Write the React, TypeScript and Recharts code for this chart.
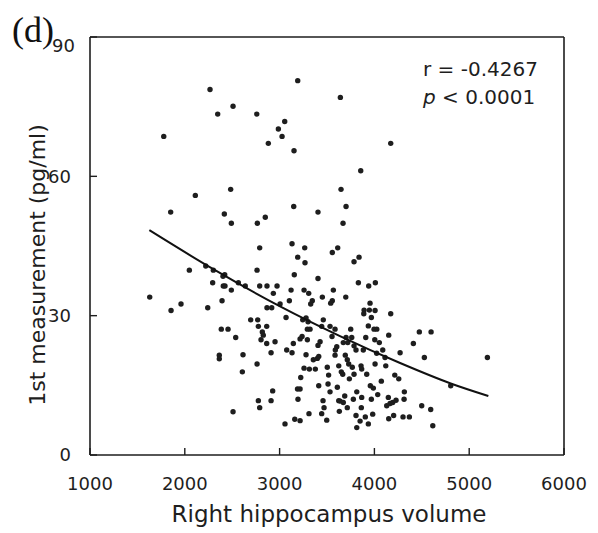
import { ScatterChart, Scatter, XAxis, YAxis, ReferenceLine } from "recharts"

const volumes = [
  2266, 3191, 2347, 2509, 2759, 3054, 2987, 3026, 1778, 2881, 3152, 3641, 4172, 3856, 2111, 2484, 1851, 2417,
  2491, 2765, 2849, 3149, 3405, 2790, 3131, 3265, 3191, 3648, 3701, 3669, 3613, 3556, 3838, 3268, 3785, 2048,
  2221, 2301, 2421, 2403, 2762, 3155, 3405, 2294, 2406, 2424, 2565, 2638, 2491, 2790, 2867, 2973, 2934, 3121,
  3258, 3307, 3567, 3451, 1630, 2393, 3103, 3345, 3328, 3556, 3539, 3005, 1855, 1960, 2242, 2867, 2917, 3068,
  2695, 2769, 3244, 3279, 3300, 3461, 2776, 2864, 3444, 3532, 3585, 2385, 2456, 2818, 2828, 3293, 3321, 2537,
  2804, 2864, 2952, 3237, 3216, 3293, 3427, 3405, 3553, 3145, 3603, 3588, 3075, 3131, 2910, 2614, 2364, 2364,
  3279, 3356, 3398, 3413, 2762, 2607, 3258, 3314, 3377, 3503, 3624, 3223, 3517, 3413, 3511, 3609, 3189, 3216,
  2927, 3532, 3194, 2776, 2910, 3458, 3624, 2790, 3469, 2509, 3310, 3444, 3630, 3160, 3216, 3497, 3057, 3831,
  4010, 3940, 3698, 3954, 3891, 3888, 3947, 4007, 3968, 4172, 3750, 3936, 3996, 4025, 4474, 4598, 4151, 3701,
  3761, 3672, 3719, 3909, 4004, 4052, 4411, 3785, 3806, 3883, 4024, 4088, 4271, 3585, 3693, 3714, 3729, 4112,
  4527, 5192, 3767, 3859, 3866, 4007, 4120, 3651, 3666, 3785, 3919, 3736, 4215, 4257, 4073, 4805, 3957, 3989,
  3814, 4316, 3687, 3866, 3968, 4035, 4147, 4313, 3638, 3672, 3778, 4165, 4193, 4228, 4130, 3714, 3862, 4499,
  4594, 3982, 3806, 3904, 4203, 4151, 4302, 4369, 3849, 3936, 3814, 4616,
]
const measurements = [
  78.7, 80.6, 73.4, 75.1, 73.4, 71.8, 70.2, 68.6, 68.6, 67.1, 65.5, 77.0, 67.1, 61.2, 55.9, 57.2, 52.3, 51.9,
  49.9, 49.9, 51.2, 53.5, 52.3, 44.6, 45.5, 44.6, 42.6, 57.2, 53.5, 49.9, 44.6, 43.6, 42.6, 41.4, 41.6, 39.8,
  40.7, 39.8, 38.8, 38.5, 39.8, 38.8, 38.0, 37.1, 36.4, 36.4, 37.1, 36.4, 35.5, 36.4, 36.4, 36.4, 34.8, 35.5,
  35.5, 34.8, 35.5, 34.0, 34.0, 33.2, 33.2, 33.2, 32.5, 33.2, 32.7, 32.5, 31.1, 32.5, 31.7, 31.7, 31.7, 29.6,
  29.1, 29.1, 29.1, 29.5, 28.7, 29.1, 27.7, 27.7, 27.7, 27.7, 27.1, 27.1, 27.1, 26.5, 25.8, 27.1, 27.1, 25.3,
  24.8, 24.0, 24.4, 25.5, 25.0, 24.8, 24.4, 23.6, 25.5, 24.0, 23.3, 22.6, 22.6, 22.0, 22.0, 21.6, 21.5, 20.7,
  21.6, 20.5, 20.8, 21.2, 19.6, 17.9, 18.7, 18.5, 18.5, 18.9, 19.2, 16.7, 17.2, 14.9, 15.3, 14.6, 14.2, 14.2,
  13.8, 13.6, 12.0, 11.7, 11.7, 11.7, 11.7, 10.2, 10.2, 9.3, 8.9, 8.9, 9.4, 7.7, 7.4, 7.5, 6.7, 37.1,
  37.1, 36.4, 34.0, 32.7, 31.2, 30.4, 31.2, 31.1, 29.6, 30.4, 27.1, 27.8, 27.1, 27.1, 26.5, 26.5, 25.8, 25.3,
  25.3, 24.2, 24.2, 25.3, 24.8, 24.2, 24.0, 23.5, 22.6, 22.6, 21.9, 22.6, 22.0, 21.5, 21.5, 20.5, 19.6, 21.0,
  21.0, 21.0, 18.9, 19.2, 18.5, 19.6, 19.2, 17.9, 17.4, 17.4, 17.4, 16.4, 17.2, 16.4, 15.9, 14.9, 14.9, 14.4,
  13.6, 13.6, 12.7, 12.4, 12.0, 13.0, 12.4, 12.0, 11.6, 11.3, 12.0, 11.1, 11.3, 11.8, 10.6, 10.2, 10.2, 10.6,
  9.8, 8.8, 8.5, 8.2, 8.5, 7.8, 8.2, 8.2, 7.3, 6.7, 5.9, 6.3,
]

// fitted curve, read at a few places along the drawn line
const trendVolumes = [1626, 2301, 3005, 3637, 4271, 4805, 5202]
const trendValues = [48.4, 40.0, 32.0, 25.6, 19.8, 15.4, 12.7]

const xTicks = [1000, 2000, 3000, 4000, 5000, 6000]
const yTicks = [0, 30, 60, 90]

const points = volumes.map((v, i) => ({ x: v, y: measurements[i] }))
const trend = trendVolumes.map((v, i) => ({ x: v, y: trendValues[i] }))

const FONT = "DejaVu Sans"
const INK = "#1e1e1e"
const TICK_LEN = 7
const X_GAP = 22 // axis line to top of x labels
const Y_GAP = 19 // axis line to right edge of y labels

// tick marks point into the plot, so each tick draws its own mark
const XTick = (props: any) => {
  const { x, y, payload } = props
  const axisY = y - X_GAP
  return (
    <g>
      <line x1={x} x2={x} y1={axisY} y2={axisY - TICK_LEN} stroke={INK} strokeWidth={1.4} />
      <text x={x} y={y} dy="0.71em" textAnchor="middle" fontFamily={FONT} fontSize={18} fill={INK}>
        {payload.value}
      </text>
    </g>
  )
}

const YTick = (props: any) => {
  const { x, y, payload } = props
  const axisX = x + Y_GAP
  // the top label sits a little lower and to the right in the original figure
  const top = payload.value === 90
  return (
    <g>
      <line x1={axisX} x2={axisX + TICK_LEN} y1={y} y2={y} stroke={INK} strokeWidth={1.4} />
      <text
        x={top ? x + 4 : x}
        y={top ? y + 9 : y}
        dy="0.35em"
        textAnchor="end"
        fontFamily={FONT}
        fontSize={18}
        fill={INK}
      >
        {payload.value}
      </text>
    </g>
  )
}

const Dot = (props: any) => <circle cx={props.cx} cy={props.cy} r={2.7} fill={INK} />

export default function App() {
  return (
    <ScatterChart width={590} height={525} margin={{ top: 29, right: 34, bottom: 0, left: 0 }}>
      <XAxis
        type="number"
        dataKey="x"
        domain={[1000, 6000]}
        ticks={xTicks}
        height={78}
        tickSize={0}
        tickMargin={X_GAP}
        axisLine={{ stroke: INK, strokeWidth: 1.6 }}
        tickLine={false}
        tick={<XTick />}
        allowDataOverflow
      />
      <YAxis
        type="number"
        dataKey="y"
        domain={[0, 90]}
        ticks={yTicks}
        width={82}
        tickSize={0}
        tickMargin={Y_GAP}
        axisLine={{ stroke: INK, strokeWidth: 1.6 }}
        tickLine={false}
        tick={<YTick />}
        allowDataOverflow
      />
      <ReferenceLine y={90} stroke={INK} strokeWidth={1.6} />
      <ReferenceLine x={6000} stroke={INK} strokeWidth={1.6} />
      <Scatter data={points} shape={<Dot />} isAnimationActive={false} />
      <Scatter
        data={trend}
        line={{ stroke: "#111", strokeWidth: 2 }}
        lineJointType="monotoneX"
        shape={() => <g />}
        isAnimationActive={false}
      />
      <text x={4} y={34} fontFamily="Liberation Serif" fontSize={36} fill="#111">
        (d)
      </text>
      <text x={415} y={68} fontFamily={FONT} fontSize={20} fill={INK}>
        r = -0.4267
      </text>
      <text x={415} y={96} fontFamily={FONT} fontSize={20} fill={INK}>
        <tspan fontStyle="italic">p</tspan> &lt; 0.0001
      </text>
      <text x={321} y={514} textAnchor="middle" fontFamily={FONT} fontSize={23} fill={INK}>
        Right hippocampus volume
      </text>
      <text
        x={37}
        y={257}
        transform="rotate(-90, 37, 257)"
        textAnchor="middle"
        fontFamily={FONT}
        fontSize={22}
        fill={INK}
      >
        1st measurement (pg/ml)
      </text>
    </ScatterChart>
  )
}
